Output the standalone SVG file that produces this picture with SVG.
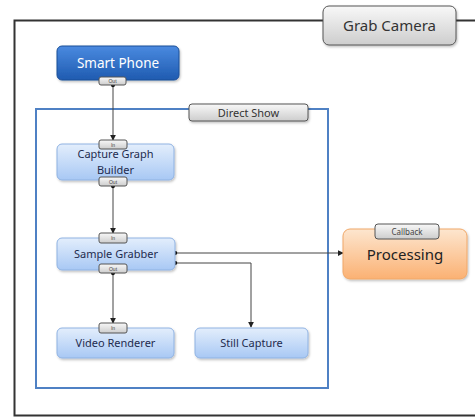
<svg xmlns="http://www.w3.org/2000/svg" width="475" height="417" viewBox="0 0 475 417">
<defs>
<linearGradient id="gBlue" x1="0" y1="0" x2="0" y2="1"><stop offset="0" stop-color="#e3eefc"/><stop offset="1" stop-color="#a8c8f4"/></linearGradient>
<linearGradient id="gDark" x1="0" y1="0" x2="0" y2="1"><stop offset="0" stop-color="#4a8ae0"/><stop offset="1" stop-color="#1f5bb0"/></linearGradient>
<linearGradient id="gOrange" x1="0" y1="0" x2="0" y2="1"><stop offset="0" stop-color="#fde6cf"/><stop offset="1" stop-color="#fbb173"/></linearGradient>
<linearGradient id="gGrey" x1="0" y1="0" x2="0" y2="1"><stop offset="0" stop-color="#f8f8f8"/><stop offset="1" stop-color="#cdcdcd"/></linearGradient>
<filter id="sh" x="-10%" y="-10%" width="130%" height="140%"><feDropShadow dx="1" dy="1.5" stdDeviation="1" flood-color="#000" flood-opacity="0.25"/></filter>
<marker id="arr" viewBox="0 0 8 8" refX="7" refY="4" markerWidth="6" markerHeight="6" orient="auto"><path d="M0,0 L8,4 L0,8 z" fill="#222"/></marker>
<marker id="dot" viewBox="0 0 6 6" refX="3" refY="3" markerWidth="5" markerHeight="5"><circle cx="3" cy="3" r="2.6" fill="#111"/></marker>
</defs>
<style>
.node{stroke-width:1;filter:url(#sh)}
.blue{fill:url(#gBlue);stroke:#8fb2e2}
.tab{fill:url(#gGrey);stroke:#555;stroke-width:1}
.lbl{font-family:"Noto Sans","Open Sans","Liberation Sans",sans-serif;text-anchor:middle;fill:#1e2b4e;font-size:11px}
.port{font-family:"Liberation Sans",sans-serif;text-anchor:middle;fill:#444;font-size:5px}
.conn{fill:none;stroke:#444;stroke-width:1}
</style>
<rect x="14.5" y="20.5" width="470" height="395" fill="none" stroke="#333" stroke-width="2"/>
<g id="grab-camera">
<rect x="323" y="6" width="133" height="39" rx="6" class="tab node" stroke="#666"/>
<text x="389.5" y="31" class="lbl" style="font-size:15px;fill:#333">Grab Camera</text>
</g>
<g id="direct-show">
<rect x="36" y="109" width="292" height="279" fill="none" stroke="#4f81c4" stroke-width="2"/>
<rect x="189" y="104" width="119" height="17" rx="3" class="tab node"/>
<text x="248.5" y="116.5" class="lbl" style="fill:#333">Direct Show</text>
</g>
<g id="connectors">
<line x1="113" y1="85" x2="113" y2="140" class="conn" marker-start="url(#dot)" marker-end="url(#arr)"/>
<line x1="113" y1="186" x2="113" y2="233" class="conn" marker-start="url(#dot)" marker-end="url(#arr)"/>
<line x1="113" y1="273" x2="113" y2="323" class="conn" marker-start="url(#dot)" marker-end="url(#arr)"/>
<line x1="175" y1="253" x2="343" y2="253" class="conn" marker-start="url(#dot)" marker-end="url(#arr)"/>
<polyline points="175,263 251,263 251,327" class="conn" marker-start="url(#dot)" marker-end="url(#arr)"/>
</g>
<g id="smart-phone">
<rect x="57" y="46" width="122" height="34" rx="5" class="node" fill="url(#gDark)" stroke="#1c4f98"/>
<text x="118" y="68" class="lbl" style="font-size:13.5px;fill:#fff">Smart Phone</text>
<rect x="99" y="77" width="27" height="8" rx="2" class="tab"/>
<text x="112.5" y="83" class="port">Out</text>
</g>
<g id="capture-graph-builder">
<rect x="57" y="144" width="117" height="36" rx="5" class="node blue"/>
<text x="115.5" y="158" class="lbl">Capture Graph</text>
<text x="115.5" y="173.5" class="lbl">Builder</text>
<rect x="99" y="140" width="28" height="9" rx="2" class="tab"/>
<text x="113" y="146.5" class="port">In</text>
<rect x="99" y="177" width="28" height="9" rx="2" class="tab"/>
<text x="113" y="183.5" class="port">Out</text>
</g>
<g id="sample-grabber">
<rect x="57" y="238" width="118" height="32" rx="5" class="node blue"/>
<text x="116" y="258" class="lbl">Sample Grabber</text>
<rect x="99" y="233" width="28" height="10" rx="2" class="tab"/>
<text x="113" y="240" class="port">In</text>
<rect x="99" y="264" width="28" height="9" rx="2" class="tab"/>
<text x="113" y="270.5" class="port">Out</text>
</g>
<g id="processing">
<rect x="343" y="229" width="124" height="50" rx="7" class="node" fill="url(#gOrange)" stroke="#f0a868"/>
<text x="405" y="260" class="lbl" style="font-size:15px;fill:#222">Processing</text>
<rect x="375" y="224" width="64" height="15" rx="3" class="tab"/>
<text x="407" y="234.5" class="lbl" style="font-size:8px;fill:#444">Callback</text>
</g>
<g id="video-renderer">
<rect x="57" y="328" width="117" height="30" rx="5" class="node blue"/>
<text x="115.5" y="347" class="lbl">Video Renderer</text>
<rect x="99" y="323" width="28" height="10" rx="2" class="tab"/>
<text x="113" y="330" class="port">In</text>
</g>
<g id="still-capture">
<rect x="195" y="328" width="113" height="30" rx="5" class="node blue"/>
<text x="251.5" y="347" class="lbl">Still Capture</text>
</g>
</svg>
